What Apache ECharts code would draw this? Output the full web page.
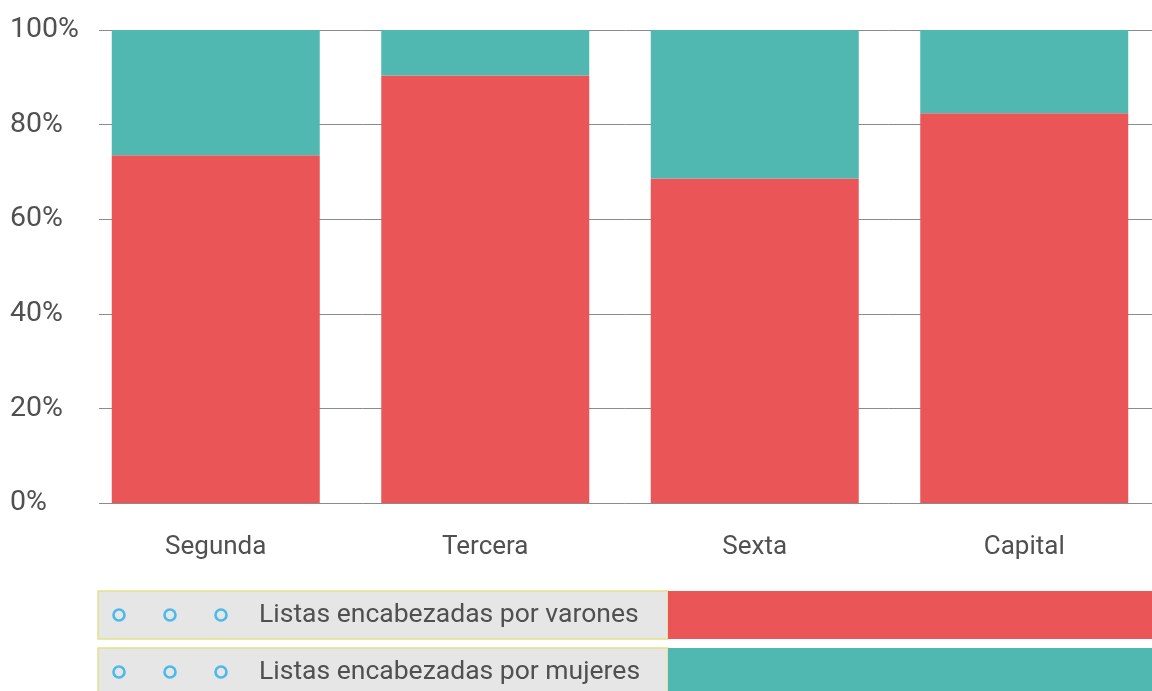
<!DOCTYPE html>
<html>
<head>
<meta charset="utf-8">
<script src="https://cdn.jsdelivr.net/npm/echarts@6/dist/echarts.min.js"></script>
<style>
  html, body { margin: 0; padding: 0; background: #fff; }
  #chart { width: 1152px; height: 691px; }
</style>
</head>
<body>
<div id="chart"></div>
<script>
const categories = ['Segunda', 'Tercera', 'Sexta', 'Capital'];
const varones = [73.5, 90.4, 68.6, 82.4];
const mujeres = [26.5, 9.6, 31.4, 17.6];
const legendLabels = ['Listas encabezadas por varones', 'Listas encabezadas por mujeres'];
const colors = ['#ea5657', '#51b8b1'];

const chart = echarts.init(document.getElementById('chart'));

// legend rows drawn by hand: grey box, three little circles, label, colour swatch
const legendGraphics = [];
legendLabels.forEach((label, i) => {
  const top = 591 + i * 57;
  legendGraphics.push({
    type: 'rect', x: 98, y: top,
    shape: {width: 570, height: 48},
    style: {fill: '#e6e6e6', stroke: '#e2e28a', lineWidth: 1.5}
  });
  legendGraphics.push({
    type: 'rect', x: 668, y: top,
    shape: {width: 484, height: 48},
    style: {fill: colors[i]}
  });
  [119, 170, 221].forEach(cx => {
    legendGraphics.push({
      type: 'circle',
      shape: {cx: cx, cy: top + 24, r: 5.5},
      style: {fill: 'none', stroke: '#4bb9ea', lineWidth: 2.6}
    });
  });
  legendGraphics.push({
    type: 'text', x: 259, y: top + 24,
    style: {text: label, fill: '#505050', font: '26.5px Roboto', verticalAlign: 'middle'}
  });
});

chart.setOption({
  animation: false,
  grid: [
    {left: 99, right: 0, top: 30, bottom: 188, outerBoundsMode: 'none'},
    {left: 81, width: 1078, top: 30, bottom: 188, outerBoundsMode: 'none'}
  ],
  xAxis: [
    {gridIndex: 0, type: 'category', data: categories, show: false},
    {
      gridIndex: 1, type: 'category', data: categories,
      axisLine: {show: false}, axisTick: {show: false},
      axisLabel: {color: '#505050', fontSize: 26, fontFamily: 'Roboto', margin: 31}
    }
  ],
  yAxis: [
    {
      gridIndex: 0, type: 'value', min: 0, max: 100, interval: 20,
      axisLine: {show: false}, axisTick: {show: false},
      axisLabel: {
        formatter: '{value}%', color: '#505050', fontSize: 28.5, fontFamily: 'Roboto',
        align: 'left', margin: 89
      },
      splitLine: {lineStyle: {color: '#8a8a8a', width: 1}}
    },
    {
      gridIndex: 1, type: 'value', min: 0, max: 100, interval: 20,
      show: false, splitLine: {show: false}
    }
  ],
  series: [
    {
      name: legendLabels[0], type: 'bar', stack: 'total',
      xAxisIndex: 1, yAxisIndex: 1,
      data: varones, barWidth: 208,
      itemStyle: {color: colors[0]}
    },
    {
      name: legendLabels[1], type: 'bar', stack: 'total',
      xAxisIndex: 1, yAxisIndex: 1,
      data: mujeres, barWidth: 208,
      itemStyle: {color: colors[1]}
    }
  ],
  graphic: legendGraphics
});
</script>
</body>
</html>
